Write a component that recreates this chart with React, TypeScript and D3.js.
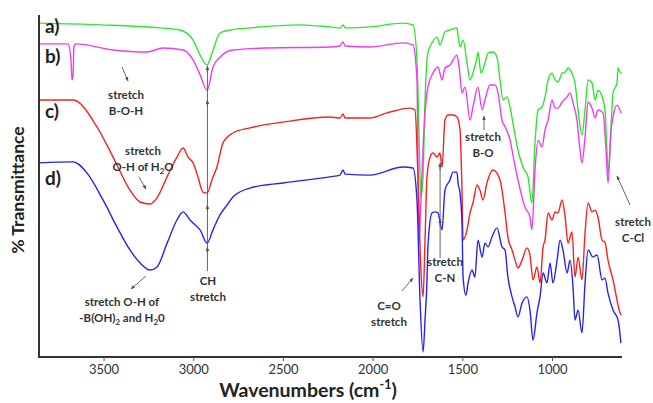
import React, { useRef, useEffect } from "react";
import * as d3 from "d3";

// spectra: [wavenumber cm-1, transmittance (a.u.)]
const specA = [
  [3860, 97.6], [3520, 97.1], [3185, 96.2], [3074, 95.6], [3001, 92.6], [2962, 88.2], [2923, 85.3],
  [2890, 89.7], [2851, 94.7], [2795, 95.6], [2684, 96.2], [2405, 97.1], [2238, 96.5], [2182, 96.2],
  [2165, 97.1], [2154, 96.2], [2015, 96.5], [1831, 97.6], [1775, 97.1], [1753, 86.8], [1742, 66.2],
  [1731, 46.2], [1719, 52.9], [1708, 75.0], [1692, 88.8], [1669, 91.8], [1641, 93.5], [1625, 91.2],
  [1597, 95.0], [1569, 95.6], [1530, 96.2], [1524, 94.1], [1513, 90.6], [1496, 92.6], [1474, 85.9],
  [1457, 80.9], [1441, 82.9], [1418, 87.6], [1413, 89.1], [1396, 82.9], [1374, 85.9], [1357, 88.8],
  [1329, 89.1], [1307, 87.6], [1290, 80.9], [1273, 75.0], [1251, 75.9], [1234, 72.9], [1218, 68.2],
  [1190, 60.3], [1162, 55.3], [1134, 52.4], [1112, 44.7], [1095, 62.4], [1078, 72.1], [1056, 72.9],
  [1039, 75.9], [1022, 80.9], [1000, 82.9], [983, 80.9], [967, 80.3], [944, 82.9], [927, 83.2],
  [911, 84.4], [889, 82.9], [872, 80.0], [855, 72.1], [833, 64.7], [816, 72.1], [799, 80.9],
  [777, 80.0], [760, 75.0], [744, 77.9], [721, 75.9], [705, 72.1], [694, 60.3], [688, 53.5],
  [671, 67.1], [660, 77.1], [638, 80.0], [632, 84.4], [621, 83.2], [610, 82.9],
];

const specB = [
  [3860, 91.5], [3698, 91.5], [3682, 86.8], [3676, 80.9], [3670, 82.4], [3665, 90.9], [3654, 91.5],
  [3447, 89.7], [3258, 89.1], [3169, 90.3], [3057, 89.7], [3001, 86.8], [2962, 82.4], [2923, 77.9],
  [2890, 84.7], [2851, 87.6], [2779, 89.7], [2589, 90.3], [2238, 90.6], [2182, 90.9], [2165, 92.1],
  [2154, 90.9], [2015, 90.6], [1831, 91.8], [1775, 91.2], [1753, 80.9], [1742, 32.9], [1731, 45.6],
  [1714, 66.2], [1692, 78.8], [1664, 82.9], [1636, 84.7], [1613, 80.9], [1597, 84.4], [1569, 85.3],
  [1530, 88.2], [1518, 84.7], [1502, 77.1], [1485, 78.8], [1457, 69.1], [1441, 72.9], [1413, 78.8],
  [1390, 72.1], [1374, 75.0], [1346, 79.4], [1318, 79.4], [1301, 77.1], [1279, 69.1], [1262, 67.1],
  [1234, 63.2], [1218, 58.8], [1190, 51.5], [1151, 43.5], [1123, 40.6], [1112, 36.8], [1095, 54.4],
  [1078, 63.2], [1056, 61.2], [1039, 66.2], [1022, 69.1], [1000, 75.0], [983, 72.6], [967, 72.6],
  [944, 74.4], [916, 75.9], [900, 77.1], [883, 74.1], [861, 69.1], [844, 60.3], [833, 56.5],
  [816, 64.1], [799, 74.4], [777, 72.6], [760, 69.7], [744, 72.1], [716, 71.2], [699, 60.3],
  [688, 50.6], [671, 66.2], [660, 70.0], [638, 73.5], [616, 71.2],
];

const specC = [
  [3860, 75.0], [3670, 75.0], [3537, 67.1], [3447, 58.2], [3353, 48.5], [3297, 45.0], [3241, 44.4],
  [3202, 46.2], [3146, 52.4], [3091, 58.2], [3057, 60.9], [3029, 58.2], [3001, 56.5], [2974, 52.4],
  [2946, 47.9], [2923, 47.6], [2896, 51.5], [2868, 55.3], [2834, 62.4], [2779, 65.3], [2684, 66.8],
  [2500, 68.5], [2238, 70.0], [2182, 69.7], [2165, 70.9], [2154, 69.7], [2015, 69.7], [1920, 71.2],
  [1792, 72.6], [1764, 72.1], [1747, 51.5], [1731, 25.0], [1719, 17.1], [1708, 33.8], [1697, 52.4],
  [1680, 58.2], [1664, 59.4], [1641, 58.2], [1625, 59.4], [1613, 55.3], [1597, 69.1], [1580, 70.6],
  [1552, 70.6], [1530, 70.0], [1513, 66.2], [1502, 48.5], [1496, 33.8], [1474, 36.8], [1457, 41.8],
  [1441, 44.7], [1418, 50.0], [1402, 48.5], [1385, 45.6], [1363, 50.6], [1329, 54.4], [1290, 51.5],
  [1262, 41.8], [1246, 34.7], [1223, 30.9], [1206, 27.9], [1190, 25.6], [1167, 27.9], [1140, 31.5],
  [1123, 29.4], [1106, 22.1], [1084, 25.9], [1067, 21.2], [1050, 31.8], [1039, 33.8], [1022, 41.8],
  [1000, 39.7], [983, 42.1], [967, 41.8], [944, 45.6], [927, 40.6], [911, 32.9], [889, 36.2],
  [872, 22.9], [855, 28.8], [833, 22.1], [816, 35.9], [799, 44.7], [777, 42.1], [760, 42.6],
  [744, 40.6], [721, 33.8], [705, 33.2], [688, 27.9], [660, 22.1], [621, 12.4], [616, 11.8],
];

const specD = [
  [3860, 56.5], [3670, 56.8], [3592, 53.5], [3503, 45.6], [3425, 37.6], [3353, 30.9], [3297, 27.1],
  [3241, 25.0], [3202, 25.9], [3146, 32.9], [3091, 39.7], [3057, 42.1], [3018, 39.7], [3001, 38.8],
  [2962, 36.8], [2923, 32.9], [2890, 36.8], [2851, 41.2], [2812, 44.1], [2779, 46.5], [2684, 49.1],
  [2500, 50.6], [2238, 52.4], [2182, 52.9], [2165, 54.4], [2154, 53.2], [2015, 52.9], [1831, 55.3],
  [1775, 55.0], [1753, 45.6], [1736, 16.2], [1719, 0.9], [1708, 10.3], [1697, 22.1], [1692, 31.8],
  [1669, 41.8], [1652, 42.1], [1636, 41.8], [1613, 36.8], [1597, 48.5], [1569, 51.5], [1552, 53.8],
  [1530, 53.8], [1524, 50.6], [1513, 47.6], [1502, 38.8], [1496, 22.9], [1480, 17.6], [1468, 21.2],
  [1446, 25.0], [1430, 22.9], [1413, 33.8], [1390, 28.8], [1374, 32.9], [1357, 31.8], [1335, 34.7],
  [1307, 37.4], [1279, 31.8], [1262, 30.9], [1246, 22.9], [1223, 17.1], [1206, 14.1], [1190, 11.2],
  [1167, 15.3], [1140, 17.1], [1123, 13.2], [1106, 4.4], [1084, 12.4], [1067, 17.1], [1050, 24.1],
  [1028, 21.2], [1011, 27.1], [995, 21.2], [972, 27.9], [955, 33.8], [939, 30.9], [916, 24.1],
  [900, 27.9], [883, 20.0], [872, 10.3], [855, 13.2], [833, 6.5], [816, 21.2], [799, 30.9],
  [772, 28.8], [749, 29.4], [721, 22.1], [705, 22.6], [688, 18.2], [660, 13.2], [632, 10.3],
  [616, 3.5],
];

const seriesColors = ["#2ee82e", "#f03cf0", "#f52222", "#2424f0"];
const seriesLabels = ["a)", "b)", "c)", "d)"];
const xTicks = [3500, 3000, 2500, 2000, 1500, 1000];

const font = "Lato, 'Open Sans', sans-serif";

const App = () => {
  const svgRef = useRef(null);

  useEffect(() => {
    const width = 653;
    const height = 403;
    const left = 39;
    const right = 622;
    const top = 15;
    const bottom = 357;

    const x = d3.scaleLinear().domain([3860, 610]).range([left, right]);
    const y = d3.scaleLinear().domain([0, 100]).range([355, 15]);

    const svg = d3.select(svgRef.current);
    svg.selectAll("*").remove();
    svg.attr("width", width).attr("height", height).attr("viewBox", [0, 0, width, height]);

    svg.append("rect").attr("width", width).attr("height", height).attr("fill", "#fff");

    const defs = svg.append("defs");
    defs
      .append("marker")
      .attr("id", "head")
      .attr("viewBox", "0 0 10 10")
      .attr("refX", 9)
      .attr("refY", 5)
      .attr("markerWidth", 5)
      .attr("markerHeight", 5)
      .attr("orient", "auto")
      .append("path")
      .attr("d", "M0,1 L10,5 L0,9 Z")
      .attr("fill", "#555");

    const line = d3
      .line()
      .x((d) => x(d[0]))
      .y((d) => y(d[1]))
      .curve(d3.curveMonotoneX);

    const all = [specA, specB, specC, specD];
    svg
      .append("g")
      .selectAll("path")
      .data(all)
      .join("path")
      .attr("d", (d) => line(d))
      .attr("fill", "none")
      .attr("stroke", (d, i) => seriesColors[i])
      .attr("stroke-width", 1.4)
      .attr("stroke-linejoin", "round");

    // axes
    const axis = svg.append("g").attr("stroke", "#333").attr("stroke-width", 2);
    axis.append("line").attr("x1", left).attr("x2", left).attr("y1", top).attr("y2", bottom + 1);
    axis.append("line").attr("x1", left - 1).attr("x2", right).attr("y1", bottom).attr("y2", bottom);

    const gx = svg
      .append("g")
      .attr("transform", `translate(0,${bottom})`)
      .call(d3.axisBottom(x).tickValues(xTicks).tickSize(4).tickPadding(4).tickFormat(d3.format("d")));
    gx.select(".domain").remove();
    gx.selectAll("line").attr("stroke", "#555");
    gx.selectAll("text").attr("font-family", font).attr("font-size", 13).attr("fill", "#333");

    // series labels
    const labelY = [33, 63, 118, 185];
    svg
      .append("g")
      .selectAll("text")
      .data(seriesLabels)
      .join("text")
      .attr("x", 45)
      .attr("y", (d, i) => labelY[i])
      .text((d) => d)
      .attr("font-family", font)
      .attr("font-weight", "bold")
      .attr("font-size", 19)
      .attr("fill", "#222");

    // axis titles
    svg
      .append("text")
      .attr("transform", "translate(24,190) rotate(-90)")
      .attr("text-anchor", "middle")
      .attr("font-family", font)
      .attr("font-weight", "bold")
      .attr("font-size", 17.5)
      .attr("fill", "#222")
      .text("% Transmittance");

    const xt = svg
      .append("text")
      .attr("x", 308)
      .attr("y", 397)
      .attr("text-anchor", "middle")
      .attr("font-family", font)
      .attr("font-weight", "bold")
      .attr("font-size", 19.5)
      .attr("fill", "#222");
    xt.append("tspan").text("Wavenumbers (cm");
    xt.append("tspan").attr("font-size", 12.5).attr("dy", -8).text("-1");
    xt.append("tspan").attr("dy", 8).text(")");

    // annotations, one <text> per row
    const ann = svg
      .append("g")
      .attr("font-family", font)
      .attr("font-weight", "bold")
      .attr("font-size", 11.5)
      .attr("fill", "#333")
      .attr("text-anchor", "middle");
    const arrows = svg.append("g").attr("stroke", "#555").attr("stroke-width", 0.9).attr("fill", "none");

    const addText = (cx, cy, rows) => {
      rows.forEach((r, i) => {
        const t = ann.append("text").attr("x", cx).attr("y", cy + i * 16);
        let shift = 0;
        r.forEach((part) => {
          if (part.sub) {
            t.append("tspan").attr("font-size", 8).attr("dy", 3).text(part.sub);
            shift = -3;
          } else {
            const s = t.append("tspan").text(part.t);
            if (shift) s.attr("dy", shift);
            shift = 0;
          }
        });
      });
    };
    const arrow = (x1, y1, x2, y2) => {
      arrows
        .append("line")
        .attr("x1", x1)
        .attr("y1", y1)
        .attr("x2", x2)
        .attr("y2", y2)
        .attr("marker-end", "url(#head)");
    };

    addText(126, 99, [[{ t: "stretch" }], [{ t: "B-O-H" }]]);
    arrow(122, 67, 128, 81);

    addText(143, 155, [[{ t: "stretch" }], [{ t: "O-H of H" }, { sub: "2" }, { t: "O" }]]);
    arrow(139, 177, 146, 189);

    addText(122, 306, [
      [{ t: "stretch O-H of" }],
      [{ t: "-B(OH)" }, { sub: "2" }, { t: " and H" }, { sub: "2" }, { t: "0" }],
    ]);
    arrow(146, 276, 131, 289);

    addText(208, 285, [[{ t: "CH" }], [{ t: "stretch" }]]);
    arrows.append("line").attr("x1", x(2921)).attr("x2", x(2921)).attr("y1", 271).attr("y2", 66);
    [66, 100, 205, 247].forEach((yy) => arrow(x(2921), yy + 6, x(2921), yy));

    addText(389, 310, [[{ t: "C=O" }], [{ t: "stretch" }]]);
    arrow(402, 291, 413, 278);

    addText(445, 266, [[{ t: "stretch" }], [{ t: "C-N" }]]);
    arrows.append("line").attr("x1", x(1624)).attr("x2", x(1624)).attr("y1", 258).attr("y2", 164);
    arrow(x(1624), 170, x(1624), 163);
    arrow(x(1624), 226, x(1624), 219);

    addText(483, 141, [[{ t: "stretch" }], [{ t: "B-O" }]]);
    arrow(484, 130, 484, 116);

    addText(633, 226, [[{ t: "stretch" }], [{ t: "C-Cl" }]]);
    arrow(630, 205, 617, 176);
  }, []);

  return (
    <div style={{ position: "absolute", left: 0, top: 0 }}>
      <svg ref={svgRef} style={{ display: "block" }} />
    </div>
  );
};

export default App;
